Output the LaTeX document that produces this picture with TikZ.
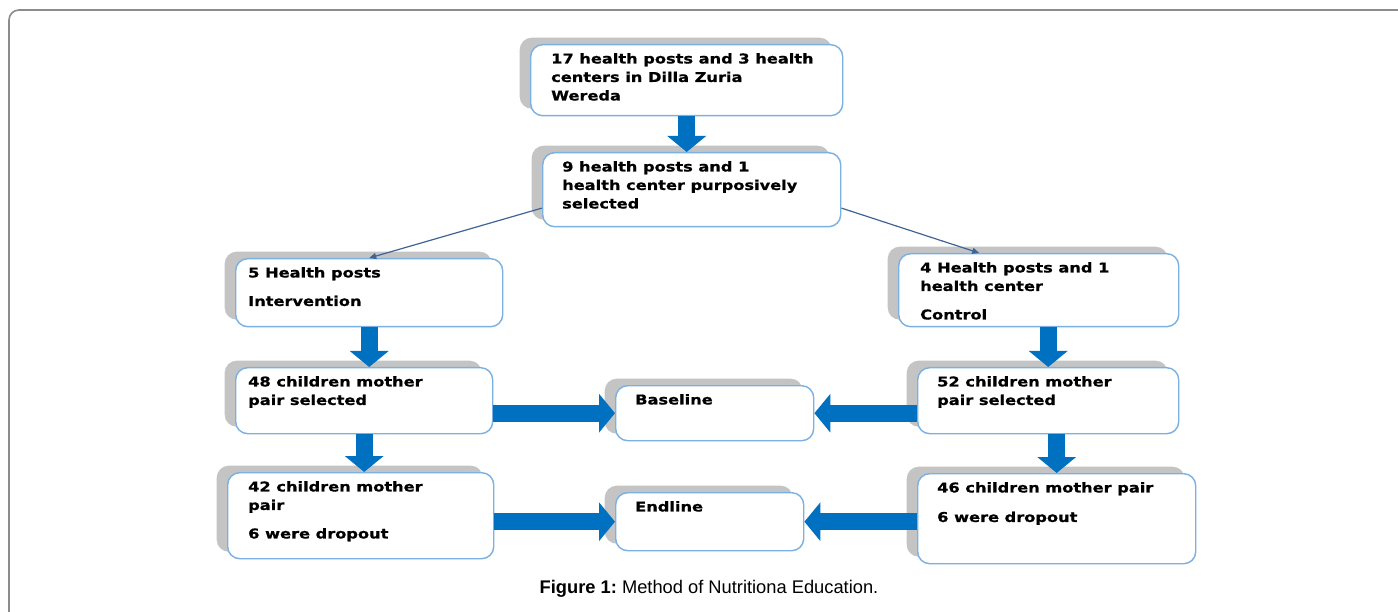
\documentclass[tikz,border=0pt]{standalone}
\usepackage{fontspec}
\newfontfamily\boxfont{DejaVu Sans}[FakeStretch=1.2,FakeBold=0.8]
\newfontfamily\capfont{Liberation Sans}
\usetikzlibrary{arrows.meta,calc,shadows}
\definecolor{arrowblue}{HTML}{0070C0}
\definecolor{edgeblue}{HTML}{7AB0E2}
\definecolor{shadegray}{HTML}{C4C4C4}
\definecolor{linkblue}{HTML}{3D6494}
\definecolor{framegray}{HTML}{8C8C8C}
\tikzset{
  flowbox/.style={draw=edgeblue, line width=1.4pt, fill=white, rounded corners=12pt,
    drop shadow={shadow xshift=-11pt, shadow yshift=7pt, fill=shadegray, opacity=1}},
  boxtext/.style={font=\boxfont\bfseries\fontsize{13.5}{18.5}\selectfont, align=left,
    inner sep=0pt, anchor=north west},
  blockarrow/.style={draw=arrowblue, line width=17pt, -{Triangle[length=16pt, width=38pt]}},
  linkarrow/.style={draw=linkblue, line width=1.2pt, -{Triangle[length=7pt, width=6pt]}},
}
\newcommand{\flowbox}[7]{%
  % name, left, top, width, height, text indent, lines
  \node[flowbox, anchor=north west, minimum width=#4pt, minimum height=#5pt] (#1) at (#2,#3) {};
  \node[boxtext] (#1-text) at ($(#1.north west)+(#6,9)$) {#7};
}
\begin{document}
\begin{tikzpicture}[x=1pt,y=-1pt]
  \useasboundingbox (0,0) rectangle (1398,612);
  \draw[framegray, line width=1.6pt, rounded corners=10pt] (9,612) -- (9,10) -- (1398,10);
  \flowbox{top}{530}{44}{312}{71}{21}{17 health posts and 3 health\\centers in Dilla Zuria\\Wereda}
  \flowbox{sel}{542}{152}{298}{74}{20}{9 health posts and 1\\health center purposively\\selected}
  \flowbox{hp5}{235}{258}{267}{68}{13}{5 Health posts\\[10pt]Intervention}
  \flowbox{ctrl}{898}{253}{280}{73}{22}{4 Health posts and 1\\health center\\[10pt]Control}
  \flowbox{m48}{235}{367}{257}{66}{13}{48 children mother\\pair selected}
  \flowbox{m52}{917}{367}{261}{66}{20}{52 children mother\\pair selected}
  \flowbox{base}{615}{385}{198}{55}{20}{Baseline}
  \flowbox{endl}{615}{492}{188}{58}{20}{Endline}
  \flowbox{m42}{227}{472}{266}{86}{21}{42 children mother\\pair\\[10pt]6 were dropout}
  \flowbox{m46}{917}{473}{278}{90}{20}{46 children mother pair\\[11pt]6 were dropout}
  % block arrows
  \foreach \a/\b in {top/sel, hp5/m48, m48/m42}{
    \draw[blockarrow] (\a.south) -- (\a.south |- \b.north);
  }
  \foreach \a/\b in {ctrl/m52, m52/m46}{
    \draw[blockarrow] (\b.north |- \a.south) -- (\b.north);
  }
  \draw[blockarrow] (m48.east |- base.west) -- (base.west);
  \draw[blockarrow] (m52.west |- base.east) -- (base.east);
  \draw[blockarrow] (m42.east |- endl.west) -- (endl.west);
  \draw[blockarrow] (m46.west |- endl.east) -- (endl.east);
  % split into the two arms
  \draw[linkarrow] (sel.187) -- (hp5.north);
  \draw[linkarrow] (sel.353) -- (ctrl.148);
  \node[font=\capfont\fontsize{18.3}{22}\selectfont] (caption) at (709,589)
    {\textbf{Figure 1:}\ Method of Nutritiona Education.};
\end{tikzpicture}
\end{document}
